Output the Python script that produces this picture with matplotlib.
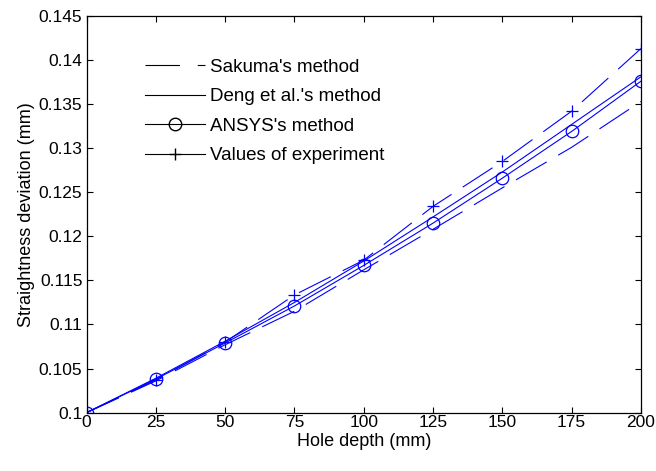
import matplotlib
matplotlib.use("Agg")
import matplotlib.pyplot as plt
from matplotlib.lines import Line2D

plt.rcParams['font.family'] = ['Liberation Sans', 'DejaVu Sans']

depth = [0, 25, 50, 75, 100, 125, 150, 175, 200]
sakuma = [0.1, 0.1036, 0.1077, 0.1115, 0.1162, 0.1208, 0.1255, 0.1301, 0.1353]
deng = [0.1, 0.1039, 0.1081, 0.1125, 0.1172, 0.1222, 0.1273, 0.1327, 0.1381]
ansys = [0.1, 0.1038, 0.1079, 0.1121, 0.1167, 0.1215, 0.1266, 0.1319, 0.1376]
experiment = [0.1, 0.1037, 0.1080, 0.11335, 0.1173, 0.1234, 0.1285, 0.1342, 0.1413]

labels = ["Sakuma's method", "Deng et al.'s method", "ANSYS's method", "Values of experiment"]
xticks = [0, 25, 50, 75, 100, 125, 150, 175, 200]
yticks = [0.1, 0.105, 0.11, 0.115, 0.12, 0.125, 0.13, 0.135, 0.14, 0.145]
ytick_labels = ['0.1', '0.105', '0.11', '0.115', '0.12', '0.125', '0.13', '0.135', '0.14', '0.145']

blue = '#0000ff'
lw = 0.8
dash = (0, (32, 12))

fig = plt.figure(figsize=(6.56, 4.71), dpi=100)
ax = fig.add_axes([0.132, 0.124, 0.845, 0.842])

ax.plot(depth, experiment, color=blue, lw=lw, linestyle=dash, marker='+', ms=9, mew=0.9)
ax.plot(depth, sakuma, color=blue, lw=lw, linestyle=dash)
ax.plot(depth, deng, color=blue, lw=lw, linestyle='-')
ax.plot(depth, ansys, color=blue, lw=lw, linestyle='-', marker='o', ms=9, mfc='none', mew=0.9)

ax.set_xlim(0, 200)
ax.set_ylim(0.1, 0.145)
ax.set_xticks(xticks)
ax.set_xticklabels([str(t) for t in xticks])
ax.set_yticks(yticks)
ax.set_yticklabels(ytick_labels)
ax.tick_params(direction='in', top=True, right=True, labelsize=12.5, length=4, width=0.8)
ax.tick_params(axis='x', pad=2)
ax.tick_params(axis='y', pad=3)
for s in ax.spines.values():
    s.set_linewidth(0.9)

ax.set_xlabel('Hole depth (mm)', fontsize=13, labelpad=2)
ax.set_ylabel('Straightness deviation (mm)', fontsize=13, labelpad=3)

handles = [
    Line2D([], [], color='black', lw=0.8, linestyle=(0, (31, 16))),
    Line2D([], [], color='black', lw=0.8, linestyle='-'),
    Line2D([], [], color='black', lw=0.8, linestyle='-', marker='o', ms=9, mfc='none'),
    Line2D([], [], color='black', lw=0.8, linestyle='-', marker='+', ms=9),
]
ax.legend(handles, labels, loc='upper left', bbox_to_anchor=(0.105, 0.892), frameon=False,
          fontsize=13.5, handlelength=3.2, handletextpad=0.27, labelspacing=0.66,
          borderaxespad=0, borderpad=0)

fig.savefig('out.png', dpi=100)
